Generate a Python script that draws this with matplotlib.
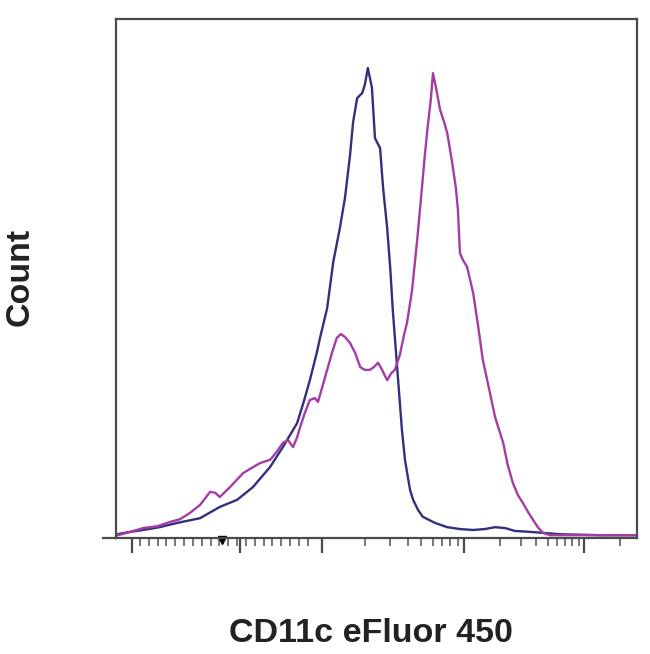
import numpy as np
import matplotlib
matplotlib.use("Agg")
import matplotlib.pyplot as plt

# ---- data (channel 0-1024, count as % of max) ----
iso_x = [2, 28, 53, 86, 120, 165, 204, 238, 269, 303, 328, 356, 370, 381, 395, 401, 415,
         427, 440, 450, 460, 466, 474, 484, 489, 495, 503, 509, 519, 525, 533, 539, 544,
         550, 556, 562, 568, 574, 578, 584, 594, 603, 627, 651, 676, 702, 725, 745, 765,
         784, 814, 873, 951, 1022]
iso_y = [0.8, 1.3, 1.7, 2.3, 3.2, 4.2, 6.6, 8.1, 10.8, 15.1, 19.3, 24.4, 29.3, 33.5, 39.5,
         42.5, 48.8, 58.6, 65.8, 72.2, 81.3, 88.3, 93.4, 94.5, 96.2, 99.8, 95.6, 84.9,
         82.8, 74.3, 65.8, 57.3, 48.4, 39.9, 31.4, 22.9, 16.6, 12.7, 10.2, 8.1, 5.9, 4.5,
         3.2, 2.3, 1.9, 1.7, 1.9, 2.3, 2.1, 1.5, 1.3, 0.8, 0.6, 0.6]

stain_x = [4, 28, 53, 81, 106, 126, 145, 165, 185, 195, 204, 224, 250, 267, 283, 303, 316,
           328, 338, 348, 356, 362, 371, 381, 391, 397, 405, 415, 425, 434, 442, 450, 460,
           470, 480, 489, 499, 507, 515, 523, 533, 541, 548, 558, 566, 572, 582, 592, 600,
           607, 613, 619, 623, 629, 637, 645, 651, 656, 662, 668, 672, 676, 682, 690, 702,
           712, 721, 735, 745, 761, 770, 780, 790, 800, 810, 820, 829, 839, 853, 951, 1022]
stain_y = [0.6, 1.3, 2.1, 2.5, 3.4, 4.0, 5.3, 7.0, 9.8, 9.6, 8.7, 10.8, 13.8, 14.9, 15.9,
           16.6, 18.3, 20.2, 20.8, 19.3, 21.4, 23.6, 26.5, 29.3, 29.7, 28.9, 31.9, 35.7,
           39.5, 42.5, 43.3, 42.7, 41.4, 39.3, 36.3, 35.7, 35.7, 36.3, 37.2, 35.7, 33.5,
           35.0, 35.7, 38.9, 43.1, 45.7, 52.7, 63.3, 72.8, 81.3, 87.7, 93.4, 98.7, 95.6,
           90.9, 88.3, 86.0, 82.8, 78.8, 74.3, 69.7, 60.5, 59.0, 57.6, 52.0, 44.8, 37.8,
           30.8, 25.7, 20.2, 15.5, 11.7, 9.1, 7.4, 5.5, 3.8, 2.3, 1.1, 0.6, 0.6, 0.6]

x_label = "CD11c eFluor 450"
y_label = "Count"

# ---- figure ----
fig = plt.figure(figsize=(6.5, 6.54), dpi=100)
ax = fig.add_axes([116 / 650, (654 - 538) / 654, 521 / 650, 519 / 654])

ax.plot(iso_x, iso_y, color="#30307e", lw=1.7, solid_joinstyle="round")
ax.plot(stain_x, stain_y, color="#a53ca5", lw=1.7, solid_joinstyle="round")

ax.set_xlim(0, 1024)
ax.set_ylim(0, 110.2)

for s in ax.spines.values():
    s.set_color("#4a4a4a")
    s.set_linewidth(1.6)

# ticks: linear region + log decades
major = [31, 244, 405, 684, 920]
minor = list(np.linspace(47, 377, 20))
for lo, width in [(405, 279), (684, 236), (920, 236)]:
    for k in range(2, 10):
        p = lo + np.log10(k) * width
        if p < 1024:
            minor.append(p)
ax.set_xticks(major)
ax.set_xticks(minor, minor=True)
ax.set_xticklabels([])
ax.set_yticks([])
ax.tick_params(axis="x", which="major", direction="out", length=11, width=1.6,
               color="#4a4a4a")
ax.tick_params(axis="x", which="minor", direction="out", length=6, width=1.3,
               color="#6a6a6a")
ax.plot([208], [-0.4], marker="v", color="black", ms=6, clip_on=False)
# bottom line extends left of the frame
ax.plot([-0.025, 0], [0, 0], transform=ax.transAxes, color="#4a4a4a", lw=1.6,
        clip_on=False)

fig.text(371 / 650, 1 - 634 / 654, x_label, ha="center", va="center",
         fontsize=24.5, fontweight="bold", family="Liberation Sans", color="#222222")
fig.text(20 / 650, 1 - 277 / 654, y_label, ha="center", va="center", rotation=90,
         fontsize=24.5, fontweight="bold", family="Liberation Sans", color="#222222")

fig.savefig("out.png", dpi=100)
